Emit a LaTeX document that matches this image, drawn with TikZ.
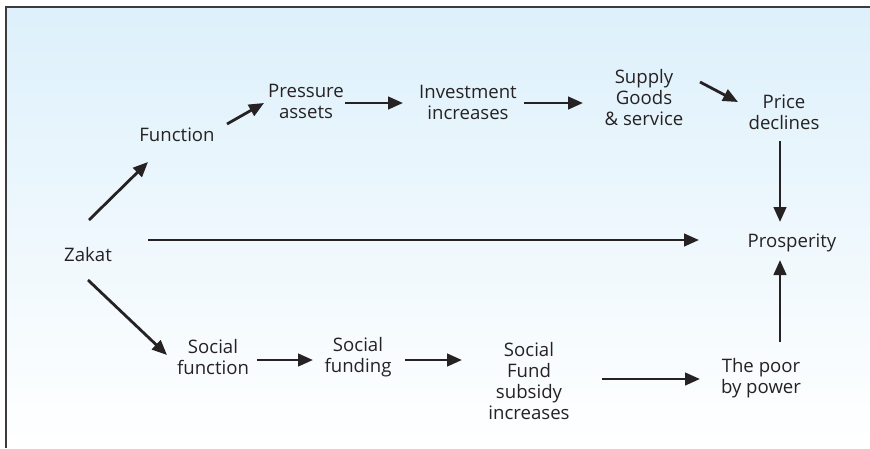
\documentclass[tikz,border=0pt]{standalone}
\usepackage{fontspec}
\setmainfont{Open Sans}
\usetikzlibrary{arrows.meta}
\definecolor{bgtop}{RGB}{221,240,251}
\definecolor{txt}{RGB}{38,34,35}
\definecolor{framec}{RGB}{60,60,60}
\tikzset{
  lbl/.style={inner sep=0pt, align=center, text=txt, font=\fontsize{18.6}{21}\selectfont},
  arr/.style={draw=txt, line width=2.8pt, -{Triangle[length=15pt,width=12.5pt]}}
}
\begin{document}
\begin{tikzpicture}[x=1pt,y=-1pt]
\useasboundingbox (0,0) rectangle (870,448);
\shade[top color=bgtop, bottom color=white] (6,7) rectangle (870,448);
\draw[framec, line width=1.3pt] (6,448) -- (6,7) -- (870,7);

\node[lbl] (zakat) at (88,255) {Zakat};
\node[lbl] (function) at (177,135) {Function};
\node[lbl] (pressure) at (306,101) {Pressure\\assets};
\node[lbl] (invest) at (468,102) {Investment\\increases};
\node[lbl] (supply) at (644,98) {Supply\\Goods\\\& service};
\node[lbl] (price) at (784,112) {Price\\declines};
\node[lbl] (prosper) at (792,243) {Prosperity};
\node[lbl] (socfun) at (213,357) {Social\\function};
\node[lbl] (socfund) at (358,357) {Social\\funding};
\node[lbl] (subsidy) at (529,381) {Social\\Fund\\subsidy\\increases};
\node[lbl] (poor) at (761,378) {The poor\\by power};

\draw[arr] ([shift={(1,-35)}]zakat.center) -- ([shift={(-29,27)}]function.center);
\draw[arr] ([shift={(0,25)}]zakat.center) -- ([shift={(-46,-2)}]socfun.center);
\draw[arr] ([shift={(60,-15)}]zakat.center) -- ([shift={(-93,-3)}]prosper.center);
\draw[arr] ([shift={(50,-11)}]function.center) -- ([shift={(-42,2)}]pressure.center);
\draw[arr] ([shift={(39,2)}]pressure.center) -- ([shift={(-65,1)}]invest.center);
\draw[arr] ([shift={(56,1)}]invest.center) -- ([shift={(-61,5)}]supply.center);
\draw[arr] ([shift={(56,-16)}]supply.center) -- ([shift={(-46,-10)}]price.center);
\draw[arr] ([shift={(-4,29)}]price.center) -- ([shift={(-12,-21)}]prosper.center);
\draw[arr] ([shift={(19,-36)}]poor.center) -- ([shift={(-12,17)}]prosper.center);
\draw[arr] ([shift={(44,3)}]socfun.center) -- ([shift={(-45,3)}]socfund.center);
\draw[arr] ([shift={(47,3)}]socfund.center) -- ([shift={(-67,-21)}]subsidy.center);
\draw[arr] ([shift={(73,-2)}]subsidy.center) -- ([shift={(-61,1)}]poor.center);
\end{tikzpicture}
\end{document}
